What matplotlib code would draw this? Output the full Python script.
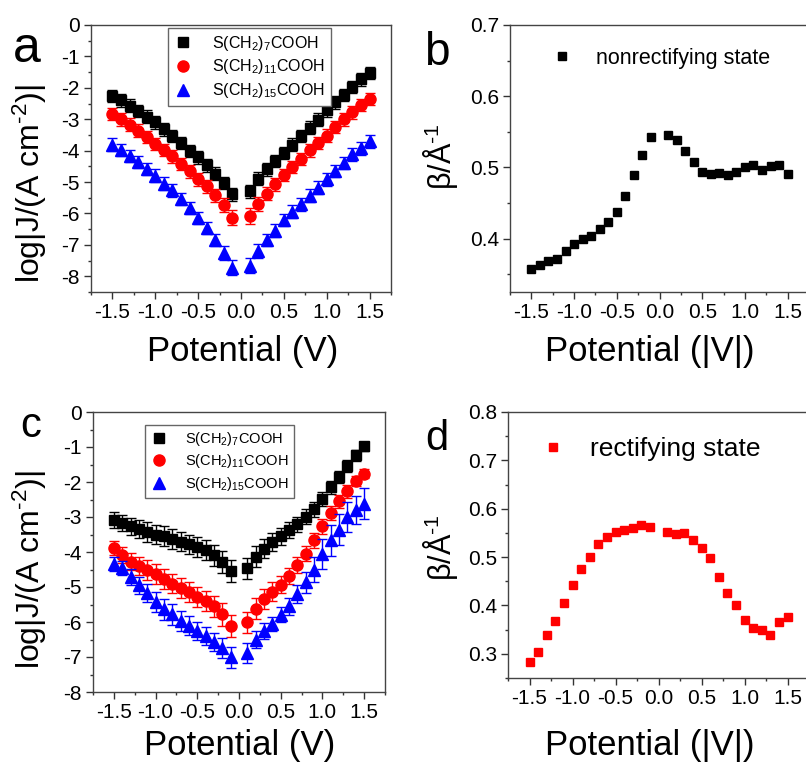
import numpy as np
import matplotlib
matplotlib.use("Agg")
import matplotlib.pyplot as plt
from matplotlib.ticker import MultipleLocator, FormatStrFormatter

plt.rcParams['font.family'] = ['Liberation Sans', 'DejaVu Sans']
plt.rcParams['mathtext.fontset'] = 'custom'
plt.rcParams['mathtext.rm'] = 'Liberation Sans'
plt.rcParams['mathtext.it'] = 'Liberation Sans'
plt.rcParams['axes.unicode_minus'] = False

# bias points (V), no point at 0
v_neg = [-1.5, -1.4, -1.3, -1.2, -1.1, -1.0, -0.9, -0.8, -0.7, -0.6, -0.5, -0.4, -0.3, -0.2, -0.1]
v_pos = [0.1, 0.2, 0.3, 0.4, 0.5, 0.6, 0.7, 0.8, 0.9, 1.0, 1.1, 1.2, 1.3, 1.4, 1.5]
volts = v_neg + v_pos

# panel a: nonrectifying junctions, log|J|
a_c7 = [-2.26, -2.40, -2.57, -2.74, -2.92, -3.10, -3.32, -3.53, -3.75, -4.01, -4.21, -4.47, -4.73, -5.03, -5.39,
        -5.30, -4.89, -4.60, -4.33, -4.07, -3.81, -3.54, -3.27, -3.01, -2.72, -2.46, -2.23, -1.97, -1.73, -1.53]
a_c11 = [-2.83, -3.00, -3.17, -3.36, -3.57, -3.79, -3.98, -4.18, -4.43, -4.66, -4.91, -5.14, -5.42, -5.73, -6.13,
         -6.08, -5.70, -5.37, -5.07, -4.78, -4.52, -4.26, -3.99, -3.75, -3.52, -3.25, -3.00, -2.78, -2.54, -2.35]
a_c15 = [-3.81, -3.98, -4.17, -4.36, -4.58, -4.80, -5.05, -5.26, -5.54, -5.83, -6.14, -6.46, -6.84, -7.25, -7.73,
         -7.66, -7.19, -6.85, -6.55, -6.21, -5.94, -5.71, -5.43, -5.18, -4.91, -4.65, -4.39, -4.12, -3.93, -3.70]
a_err7 = [0.20] * 30
a_err11 = [0.20] * 13 + [0.22, 0.24, 0.24, 0.22] + [0.20] * 13
a_err15 = [0.20] * 13 + [0.22, 0.24, 0.24, 0.22] + [0.20] * 13

# panel c: rectifying junctions, log|J|
c_c7 = [-3.08, -3.17, -3.27, -3.34, -3.42, -3.50, -3.55, -3.63, -3.70, -3.78, -3.86, -3.95, -4.09, -4.28, -4.54,
        -4.47, -4.14, -3.90, -3.72, -3.55, -3.37, -3.21, -2.99, -2.78, -2.49, -2.15, -1.86, -1.54, -1.24, -0.98]
c_c11 = [-3.89, -4.09, -4.28, -4.39, -4.52, -4.63, -4.77, -4.90, -5.02, -5.15, -5.28, -5.40, -5.55, -5.78, -6.11,
         -6.00, -5.62, -5.34, -5.13, -4.93, -4.68, -4.37, -4.05, -3.67, -3.27, -2.89, -2.55, -2.27, -1.97, -1.76]
c_c15 = [-4.33, -4.47, -4.71, -4.95, -5.17, -5.43, -5.63, -5.78, -5.97, -6.10, -6.26, -6.39, -6.56, -6.74, -7.00,
         -6.88, -6.50, -6.26, -6.05, -5.79, -5.55, -5.19, -4.87, -4.50, -4.06, -3.67, -3.36, -3.00, -2.79, -2.62]
c_err7 = [0.22, 0.22, 0.24, 0.26, 0.28, 0.28, 0.28, 0.28, 0.28, 0.28, 0.28, 0.28, 0.30, 0.32, 0.32,
          0.30, 0.30, 0.28, 0.26, 0.24, 0.22, 0.22, 0.22, 0.22, 0.20, 0.18, 0.18, 0.18, 0.15, 0.12]
c_err11 = [0.20, 0.22, 0.24, 0.26, 0.28, 0.28, 0.28, 0.28, 0.28, 0.28, 0.28, 0.28, 0.30, 0.32, 0.32,
           0.30, 0.30, 0.28, 0.26, 0.24, 0.22, 0.22, 0.22, 0.22, 0.22, 0.20, 0.18, 0.18, 0.15, 0.12]
c_err15 = [0.20, 0.20, 0.22, 0.24, 0.26, 0.28, 0.30, 0.30, 0.28, 0.26, 0.26, 0.26, 0.26, 0.28, 0.30,
           0.28, 0.24, 0.22, 0.20, 0.22, 0.24, 0.26, 0.30, 0.36, 0.42, 0.44, 0.45, 0.42, 0.40, 0.45]

# panel b / d: decay coefficient beta (1/Angstrom)
beta_nonrect = [0.358, 0.363, 0.369, 0.372, 0.383, 0.392, 0.399, 0.403, 0.413, 0.423, 0.437, 0.460, 0.489, 0.517, 0.543,
                0.546, 0.538, 0.523, 0.507, 0.494, 0.491, 0.492, 0.490, 0.494, 0.501, 0.504, 0.497, 0.502, 0.504, 0.491]
beta_rect = [0.284, 0.303, 0.338, 0.368, 0.405, 0.442, 0.475, 0.501, 0.527, 0.541, 0.551, 0.557, 0.561, 0.566, 0.563,
             0.551, 0.548, 0.549, 0.536, 0.519, 0.498, 0.459, 0.425, 0.400, 0.369, 0.354, 0.350, 0.339, 0.366, 0.377]

labels = [r'S(CH$_2$)$_7$COOH', r'S(CH$_2$)$_{11}$COOH', r'S(CH$_2$)$_{15}$COOH']

W, H = 806, 763
fig = plt.figure(figsize=(W / 100, H / 100), dpi=100)


def px_axes(left, top, right, bottom):
    return fig.add_axes([left / W, 1 - bottom / H, (right - left) / W, (bottom - top) / H])


def style(ax, ylim, ymajor, yminor, yfmt):
    ax.set_xlim(-1.75, 1.75)
    ax.set_ylim(*ylim)
    ax.xaxis.set_major_locator(MultipleLocator(0.5))
    ax.xaxis.set_minor_locator(MultipleLocator(0.25))
    ax.xaxis.set_major_formatter(FormatStrFormatter('%.1f'))
    ax.yaxis.set_major_locator(MultipleLocator(ymajor))
    ax.yaxis.set_minor_locator(MultipleLocator(yminor))
    ax.yaxis.set_major_formatter(FormatStrFormatter(yfmt))
    ax.tick_params(which='both', direction='out', color='#333333', width=1.0,
                   top=False, right=False, labelsize=15, pad=3)
    ax.tick_params(which='major', length=5)
    ax.tick_params(which='minor', length=2.5)
    for s in ax.spines.values():
        s.set_color('#444444')
        s.set_linewidth(1.0)


def jv_panel(ax, series, errs, legend_at, legend_size, ylim):
    colors = ['black', 'red', 'blue']
    markers = ['s', 'o', '^']
    sizes = [7, 8, 8.5]
    for y, e, c, m, ms, lab in zip(series, errs, colors, markers, sizes, labels):
        ax.errorbar(volts, y, yerr=e, fmt='none', ecolor=c, capsize=3.5,
                    elinewidth=1.0, capthick=1.0)
        ax.plot(volts, y, m, color=c, ms=ms, label=lab)
    leg = ax.legend(loc='upper left', bbox_to_anchor=(legend_at[0] / W, 1 - legend_at[1] / H),
                    bbox_transform=fig.transFigure, fontsize=legend_size, fancybox=False,
                    edgecolor='#666666', framealpha=1, handlelength=1.2, handletextpad=1.2,
                    labelspacing=0.3, borderpad=0.35, borderaxespad=0)
    leg.get_frame().set_linewidth(1.0)
    style(ax, ylim, 1, 0.5, '%d')


ax_a = px_axes(91, 25, 391, 292)
jv_panel(ax_a, [a_c7, a_c11, a_c15], [a_err7, a_err11, a_err15], (168, 28), 11.5, (-8.5, 0))

ax_c = px_axes(93, 412, 385, 692)
jv_panel(ax_c, [c_c7, c_c11, c_c15], [c_err7, c_err11, c_err15], (145, 425), 10.5, (-8, 0))

ax_b = px_axes(510, 25, 809, 292)
ax_b.plot(volts, beta_nonrect, 's', color='black', ms=6, label='nonrectifying state')
ax_b.legend(loc='upper left', bbox_to_anchor=(549 / W, 1 - 48 / H), bbox_transform=fig.transFigure,
            frameon=False, fontsize=15.5, handlelength=1.2, handletextpad=1.0, borderpad=0, borderaxespad=0)
style(ax_b, (0.325, 0.7), 0.1, 0.05, '%.1f')

ax_d = px_axes(508, 412, 809, 678)
ax_d.plot(volts, beta_rect, 's', color='red', ms=5.5, label='rectifying state')
ax_d.legend(loc='upper left', bbox_to_anchor=(540 / W, 1 - 437 / H), bbox_transform=fig.transFigure,
            frameon=False, fontsize=19, handlelength=1.0, handletextpad=0.9, borderpad=0, borderaxespad=0)
style(ax_d, (0.25, 0.8), 0.1, 0.05, '%.1f')

# axis titles
ylab_j = r'log|J/(A cm$^{\text{-2}}$)|'
ylab_b = r'β/Å$^{\text{-1}}$'
fig.text(30 / W, 1 - 184 / H, ylab_j, rotation=90, ha='center', va='center', fontsize=23)
fig.text(30 / W, 1 - 570 / H, ylab_j, rotation=90, ha='center', va='center', fontsize=23)
fig.text(440 / W, 1 - 157 / H, ylab_b, rotation=90, ha='center', va='center', fontsize=22)
fig.text(440 / W, 1 - 548 / H, ylab_b, rotation=90, ha='center', va='center', fontsize=22)
fig.text(243 / W, 1 - 352 / H, 'Potential (V)', ha='center', va='center', fontsize=25)
fig.text(240 / W, 1 - 746 / H, 'Potential (V)', ha='center', va='center', fontsize=25)
fig.text(650 / W, 1 - 352 / H, 'Potential (|V|)', ha='center', va='center', fontsize=25)
fig.text(650 / W, 1 - 746 / H, 'Potential (|V|)', ha='center', va='center', fontsize=25)

# panel letters
fig.text(27 / W, 1 - 62 / H, 'a', ha='center', va='baseline', fontsize=36)
fig.text(437 / W, 1 - 65 / H, 'b', ha='center', va='baseline', fontsize=33)
fig.text(31 / W, 1 - 437 / H, 'c', ha='center', va='baseline', fontsize=30)
fig.text(437 / W, 1 - 450 / H, 'd', ha='center', va='baseline', fontsize=30)

fig.savefig('out.png', dpi=100)
